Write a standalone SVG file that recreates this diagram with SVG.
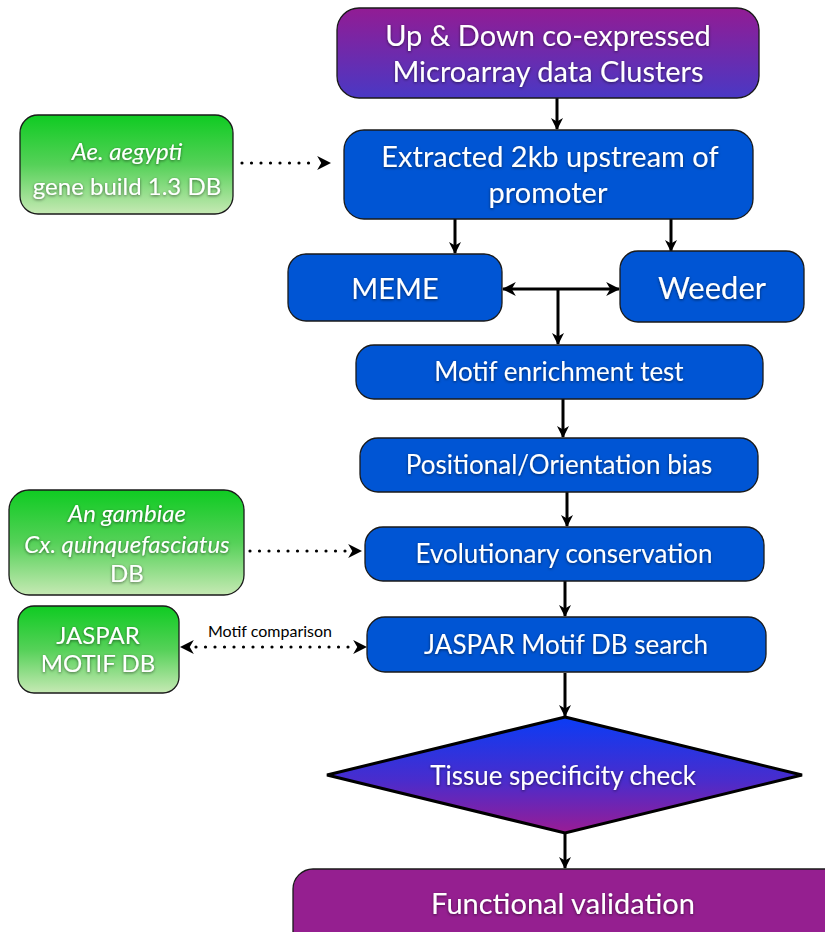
<svg xmlns="http://www.w3.org/2000/svg" width="825" height="932" viewBox="0 0 825 932">
  <defs>
    <linearGradient id="gPurpleTop" x1="0" y1="0" x2="0" y2="1">
      <stop offset="0" stop-color="#921c94"/>
      <stop offset="1" stop-color="#4a38c4"/>
    </linearGradient>
    <linearGradient id="gGreen" x1="0" y1="0" x2="0" y2="1">
      <stop offset="0" stop-color="#0fcb22"/>
      <stop offset="0.5" stop-color="#55d158"/>
      <stop offset="1" stop-color="#c6e9b4"/>
    </linearGradient>
    <linearGradient id="gDiamond" x1="0" y1="0" x2="0" y2="1">
      <stop offset="0" stop-color="#0a3cf5"/>
      <stop offset="0.55" stop-color="#4a2ccc"/>
      <stop offset="1" stop-color="#9a1c94"/>
    </linearGradient>
    <filter id="glow" x="-10%" y="-30%" width="120%" height="160%">
      <feDropShadow dx="0" dy="1" stdDeviation="1.6" flood-color="#000" flood-opacity="0.55"/>
    </filter>
    <marker id="ah" viewBox="0 0 12 12" refX="11" refY="6" markerWidth="12" markerHeight="12" markerUnits="userSpaceOnUse" orient="auto-start-reverse">
      <path d="M0,0 L12,6 L0,12 L3.5,6 z" fill="#000"/>
    </marker>
    <marker id="ahs" viewBox="0 0 12 12" refX="11" refY="6" markerWidth="14" markerHeight="14" markerUnits="userSpaceOnUse" orient="auto-start-reverse">
      <path d="M0,0 L12,6 L0,12 L3.5,6 z" fill="#000"/>
    </marker>
  </defs>
  <style>
    .box { stroke: #1a1a1a; stroke-width: 1.3; }
    .blue { fill: #0055d4; }
    .lbl { font-family: Lato, "Open Sans", "Liberation Sans", sans-serif; fill: #ffffff; text-anchor: middle; filter: url(#glow); }
    .big { font-size: 29px; }
    .mid { font-size: 26px; }
    .sm { font-size: 24px; }
    .it { font-style: italic; }
    .con { stroke: #000; stroke-width: 3; fill: none; }
    .dot { stroke: #000; stroke-width: 3.2; fill: none; stroke-linecap: round; stroke-dasharray: 0 9.5; }
    .note { font-family: Lato, "Open Sans", "Liberation Sans", sans-serif; font-size: 16px; fill: #000; }
  </style>

  <!-- connectors -->
  <g id="connectors">
    <line class="con" x1="557" y1="98" x2="557" y2="129" marker-end="url(#ah)"/>
    <line class="con" x1="455" y1="219" x2="455" y2="253" marker-end="url(#ah)"/>
    <line class="con" x1="671" y1="219" x2="671" y2="251" marker-end="url(#ah)"/>
    <line class="con" x1="503" y1="289" x2="619" y2="289" marker-start="url(#ahs)" marker-end="url(#ahs)"/>
    <line class="con" x1="558" y1="289" x2="558" y2="344" marker-end="url(#ah)"/>
    <line class="con" x1="563" y1="399" x2="563" y2="437" marker-end="url(#ah)"/>
    <line class="con" x1="567" y1="492" x2="567" y2="526" marker-end="url(#ah)"/>
    <line class="con" x1="565" y1="581" x2="565" y2="616" marker-end="url(#ah)"/>
    <line class="con" x1="565" y1="673" x2="565" y2="716" marker-end="url(#ah)"/>
    <line class="con" x1="565" y1="833" x2="565" y2="868" marker-end="url(#ah)"/>
    <!-- dotted database links -->
    <line class="dot" x1="242" y1="163" x2="318" y2="163"/>
    <line class="con" x1="318" y1="163" x2="330" y2="163" marker-end="url(#ahs)" style="stroke-width:0"/>
    <line class="dot" x1="250" y1="551" x2="350" y2="551"/>
    <line class="con" x1="350" y1="551" x2="361" y2="551" marker-end="url(#ahs)" style="stroke-width:0"/>
    <line class="dot" x1="196" y1="647" x2="352" y2="647"/>
    <line class="con" x1="352" y1="647" x2="366" y2="647" marker-end="url(#ahs)" style="stroke-width:0"/>
    <line class="con" x1="194" y1="647" x2="181" y2="647" marker-end="url(#ahs)" style="stroke-width:0"/>
    <text class="note" x="270" y="637" text-anchor="middle">Motif comparison</text>
  </g>

  <g id="clusters">
    <rect class="box" x="337" y="8" width="422" height="90" rx="22" fill="url(#gPurpleTop)"/>
    <text class="lbl big" x="548" y="46">Up &amp; Down co-expressed</text>
    <text class="lbl big" x="548" y="82">Microarray data Clusters</text>
  </g>

  <g id="aegypti-db">
    <rect class="box" x="20" y="115" width="213" height="99" rx="18" fill="url(#gGreen)"/>
    <text class="lbl sm it" x="127" y="160">Ae. aegypti</text>
    <text class="lbl sm" x="127" y="195">gene build 1.3 DB</text>
  </g>

  <g id="extract">
    <rect class="box blue" x="344" y="130" width="409" height="89" rx="20"/>
    <text class="lbl big" x="550" y="167">Extracted 2kb upstream of</text>
    <text class="lbl big" x="548" y="203">promoter</text>
  </g>

  <g id="meme">
    <rect class="box blue" x="288" y="254" width="214" height="67" rx="18"/>
    <text class="lbl big" x="395" y="299">MEME</text>
  </g>

  <g id="weeder">
    <rect class="box blue" x="620" y="251" width="184" height="71" rx="18"/>
    <text class="lbl" style="font-size:31px" x="712" y="299">Weeder</text>
  </g>

  <g id="enrichment">
    <rect class="box blue" x="356" y="345" width="407" height="54" rx="18"/>
    <text class="lbl mid" x="559" y="381">Motif enrichment test</text>
  </g>

  <g id="bias">
    <rect class="box blue" x="360" y="438" width="398" height="54" rx="18"/>
    <text class="lbl mid" x="559" y="474">Positional/Orientation bias</text>
  </g>

  <g id="gambiae-db">
    <rect class="box" x="9" y="490" width="235" height="105" rx="20" fill="url(#gGreen)"/>
    <text class="lbl sm it" x="127" y="522">An gambiae</text>
    <text class="lbl sm it" x="127" y="553">Cx. quinquefasciatus</text>
    <text class="lbl sm" x="127" y="582">DB</text>
  </g>

  <g id="conservation">
    <rect class="box blue" x="365" y="527" width="399" height="54" rx="18"/>
    <text class="lbl mid" x="564" y="563">Evolutionary conservation</text>
  </g>

  <g id="jaspar-db">
    <rect class="box" x="18" y="606" width="161" height="87" rx="16" fill="url(#gGreen)"/>
    <text class="lbl sm" x="98" y="644">JASPAR</text>
    <text class="lbl sm" x="98" y="672">MOTIF DB</text>
  </g>

  <g id="jaspar-search">
    <rect class="box blue" x="367" y="617" width="399" height="55" rx="18"/>
    <text class="lbl mid" x="566" y="654">JASPAR Motif DB search</text>
  </g>

  <g id="tissue">
    <polygon points="565,717 802,775 565,833 327,775" fill="url(#gDiamond)" stroke="#000" stroke-width="3" stroke-linejoin="miter"/>
    <text class="lbl mid" x="563" y="785">Tissue specificity check</text>
  </g>

  <g id="validation">
    <rect class="box" x="293" y="869" width="560" height="100" rx="20" fill="#951f90"/>
    <text class="lbl big" x="563" y="914">Functional validation</text>
  </g>
</svg>
